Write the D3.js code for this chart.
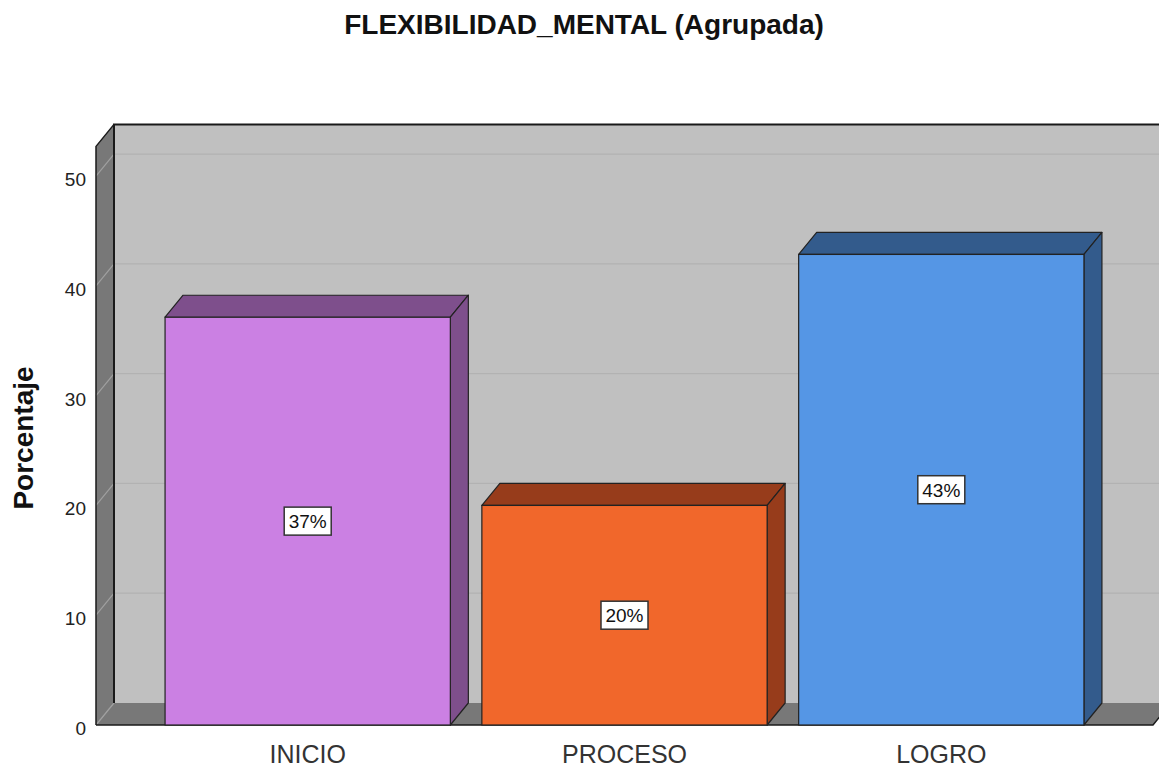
<!DOCTYPE html>
<meta charset="utf-8">
<style>
body { margin: 0; background: #fff; }
text { font-family: "Liberation Sans", Arial, sans-serif; }
</style>
<body>
<script src="https://cdn.jsdelivr.net/npm/d3@7/dist/d3.min.js"></script>
<script>

var categories = ["INICIO", "PROCESO", "LOGRO"];
var values = [37.14, 20.0, 42.86];
var yTicks = [0, 10, 20, 30, 40, 50];
var frontColors = ["#cb80e3", "#f1672b", "#5596e5"];
var sideColors = ["#7e4f8c", "#973c1b", "#335b8c"];

var width = 1159, height = 767;
// depth offset of the 3d box
var dx = 18, dy = -22;

var svg = d3.select("body").append("svg")
    .attr("width", width)
    .attr("height", height);

var x = d3.scaleBand()
    .domain(categories)
    .range([96, 1153])
    .paddingInner(0.0995)
    .paddingOuter(0.218);

var y = d3.scaleLinear()
    .domain([0, 52.7])
    .range([725, 146.4]);

var x0 = 96, x1 = 1153, y0 = y(0), yTop = y(52.7);

function pts(a) { return a.map(function(p) { return p.join(","); }).join(" "); }

// back wall
svg.append("rect")
    .attr("x", x0 + dx).attr("y", yTop + dy)
    .attr("width", x1 - x0).attr("height", y0 - yTop)
    .attr("fill", "#c0c0c0");

// left side wall
svg.append("polygon")
    .attr("points", pts([[x0, yTop], [x0 + dx, yTop + dy], [x0 + dx, y0 + dy], [x0, y0]]))
    .attr("fill", "#787878");

// floor
svg.append("polygon")
    .attr("points", pts([[x0, y0], [x0 + dx, y0 + dy], [x1 + dx, y0 + dy], [x1, y0]]))
    .attr("fill", "#787878");

// gridlines on back wall and side wall
var grid = svg.append("g");
yTicks.filter(function(d) { return d > 0; }).forEach(function(t) {
  grid.append("line")
      .attr("x1", x0 + dx).attr("x2", x1 + dx)
      .attr("y1", y(t) + dy).attr("y2", y(t) + dy)
      .attr("stroke", "#b2b2b2").attr("stroke-width", 1.2);
  grid.append("line")
      .attr("x1", x0).attr("x2", x0 + dx)
      .attr("y1", y(t)).attr("y2", y(t) + dy)
      .attr("stroke", "#a0a0a0").attr("stroke-width", 1.2);
});
grid.append("line")
    .attr("x1", x0).attr("x2", x0 + dx)
    .attr("y1", y0).attr("y2", y0 + dy)
    .attr("stroke", "#a0a0a0").attr("stroke-width", 1.2);

// edges of the box
svg.append("path")
    .attr("d", "M" + (x0 + dx) + "," + (y0 + dy) + "V" + (yTop + dy) + "H" + (x1 + dx + 20))
    .attr("fill", "none").attr("stroke", "#1a1a1a").attr("stroke-width", 2);
svg.append("path")
    .attr("d", "M" + x0 + "," + y0 + "V" + yTop + "L" + (x0 + dx) + "," + (yTop + dy))
    .attr("fill", "none").attr("stroke", "#1a1a1a").attr("stroke-width", 1.5);
svg.append("path")
    .attr("d", "M" + x0 + "," + y0 + "H" + x1 + "L" + (x1 + dx) + "," + (y0 + dy))
    .attr("fill", "none").attr("stroke", "#1a1a1a").attr("stroke-width", 1.5);

// bars
var bars = svg.selectAll(".bar")
    .data(values)
  .enter().append("g")
    .attr("class", "bar");

bars.append("polygon")
    .attr("points", function(d, i) {
      var bx = x(categories[i]), bw = x.bandwidth(), by = y(d);
      return pts([[bx, by], [bx + dx, by + dy], [bx + bw + dx, by + dy], [bx + bw, by]]);
    })
    .attr("fill", function(d, i) { return sideColors[i]; })
    .attr("stroke", "#222").attr("stroke-width", 1.2).attr("stroke-linejoin", "round");

bars.append("polygon")
    .attr("points", function(d, i) {
      var bx = x(categories[i]) + x.bandwidth(), by = y(d);
      return pts([[bx, by], [bx + dx, by + dy], [bx + dx, y0 + dy], [bx, y0]]);
    })
    .attr("fill", function(d, i) { return sideColors[i]; })
    .attr("stroke", "#222").attr("stroke-width", 1.2).attr("stroke-linejoin", "round");

bars.append("rect")
    .attr("x", function(d, i) { return x(categories[i]); })
    .attr("y", function(d) { return y(d); })
    .attr("width", x.bandwidth())
    .attr("height", function(d) { return y0 - y(d); })
    .attr("fill", function(d, i) { return frontColors[i]; })
    .attr("stroke", "#222").attr("stroke-width", 1.2);

// value labels
bars.append("rect")
    .attr("x", function(d, i) { return x(categories[i]) + x.bandwidth() / 2 - 23.5; })
    .attr("y", function(d) { return (y(d) + y0) / 2 - 14; })
    .attr("width", 47).attr("height", 28)
    .attr("fill", "#fff").attr("stroke", "#333").attr("stroke-width", 1.5);

bars.append("text")
    .attr("x", function(d, i) { return x(categories[i]) + x.bandwidth() / 2; })
    .attr("y", function(d) { return (y(d) + y0) / 2 + 7; })
    .attr("text-anchor", "middle")
    .attr("font-size", "19px")
    .attr("fill", "#111")
    .text(function(d) { return Math.round(d) + "%"; });

// y tick labels
svg.selectAll(".ytick")
    .data(yTicks)
  .enter().append("text")
    .attr("class", "ytick")
    .attr("x", 86)
    .attr("y", function(d) { return y(d) + 10; })
    .attr("text-anchor", "end")
    .attr("font-size", "19px")
    .attr("fill", "#222")
    .text(function(d) { return d; });

// category labels
svg.selectAll(".xlabel")
    .data(categories)
  .enter().append("text")
    .attr("class", "xlabel")
    .attr("x", function(d) { return x(d) + x.bandwidth() / 2; })
    .attr("y", 763)
    .attr("text-anchor", "middle")
    .attr("font-size", "25px")
    .attr("fill", "#333")
    .text(function(d) { return d; });

// title
svg.append("text")
    .attr("x", 584)
    .attr("y", 34)
    .attr("text-anchor", "middle")
    .attr("font-size", "28px")
    .attr("font-weight", "bold")
    .attr("fill", "#111")
    .text("FLEXIBILIDAD_MENTAL (Agrupada)");

svg.append("text")
    .attr("transform", "translate(33,438) rotate(-90)")
    .attr("text-anchor", "middle")
    .attr("font-size", "28px")
    .attr("font-weight", "bold")
    .attr("fill", "#111")
    .text("Porcentaje");

</script>
</body>
